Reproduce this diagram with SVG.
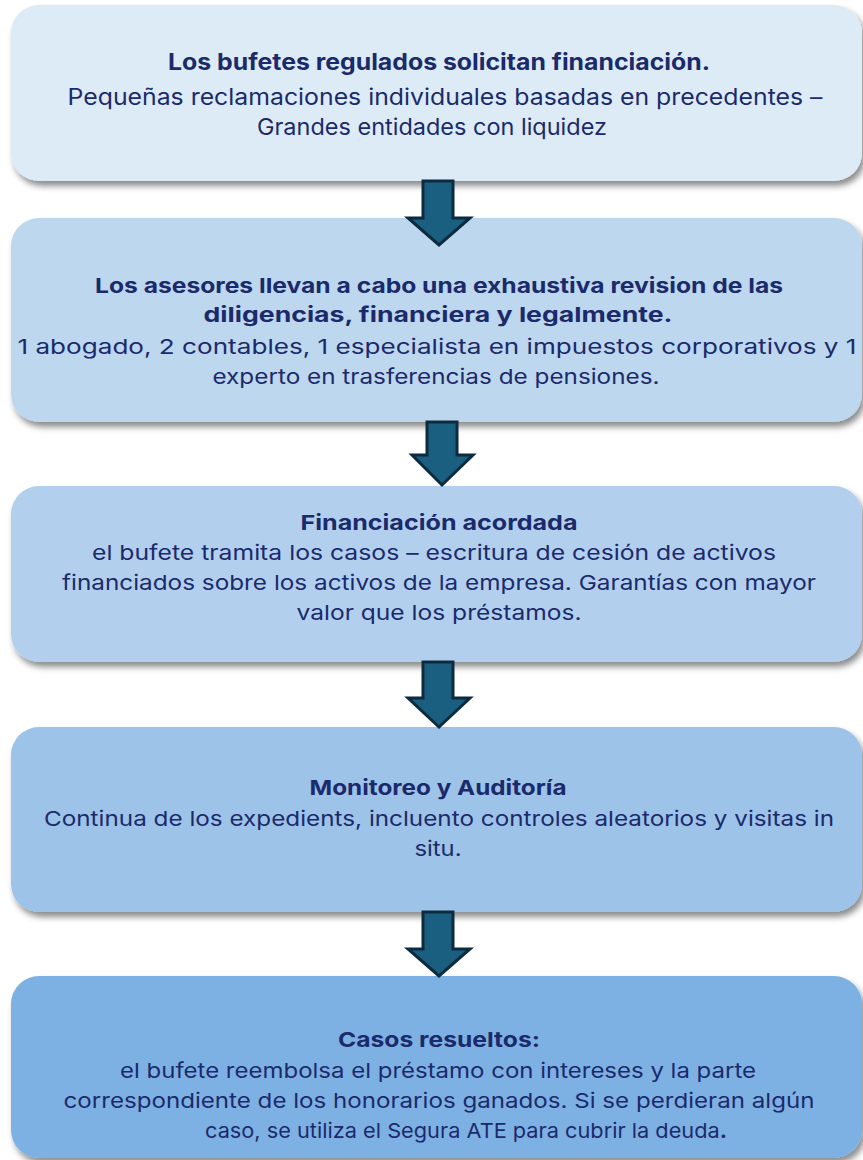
<svg xmlns="http://www.w3.org/2000/svg" width="863" height="1160" viewBox="0 0 863 1160">
<defs>
<filter id="sh" x="-5%" y="-10%" width="115%" height="130%">
<feDropShadow dx="3" dy="5" stdDeviation="3" flood-color="#000" flood-opacity="0.45"/>
</filter>
<style>
.box{filter:url(#sh);}
text{font-family:Inter,"Noto Sans","Liberation Sans",sans-serif;font-size:20.5px;fill:#1B2A6B;text-anchor:middle;}
.b{font-weight:bold;}
.big{font-size:22.5px;}
.arr{fill:#1A5E80;stroke:#0D2B3E;stroke-width:3;stroke-linejoin:miter;}
</style>
</defs>
<rect width="863" height="1160" fill="#fff"/>
<g id="n1">
<rect class="box" x="11" y="5" width="851" height="176" rx="28" fill="#DDEBF7"/>
<text class="b big" x="439" y="70" textLength="542" lengthAdjust="spacingAndGlyphs">Los bufetes regulados solicitan financiación.</text>
<text class="big" x="445" y="105" textLength="755" lengthAdjust="spacingAndGlyphs">Pequeñas reclamaciones individuales basadas en precedentes –</text>
<text class="big" x="432" y="135" textLength="350" lengthAdjust="spacingAndGlyphs">Grandes entidades con liquidez</text>
</g>
<g id="n2">
<rect class="box" x="11" y="218" width="851" height="204" rx="28" fill="#BDD7EE"/>
<text class="b" x="439" y="293" textLength="688" lengthAdjust="spacingAndGlyphs">Los asesores llevan a cabo una exhaustiva revision de las</text>
<text class="b" x="438" y="322" textLength="469" lengthAdjust="spacingAndGlyphs">diligencias, financiera y legalmente.</text>
<text x="437" y="354" textLength="839" lengthAdjust="spacingAndGlyphs">1 abogado, 2 contables, 1 especialista en impuestos corporativos y 1</text>
<text x="436" y="384" textLength="447" lengthAdjust="spacingAndGlyphs">experto en trasferencias de pensiones.</text>
</g>
<g id="n3">
<rect class="box" x="11" y="486" width="851" height="176" rx="28" fill="#B2D0EE"/>
<text class="b" x="439" y="530" textLength="277" lengthAdjust="spacingAndGlyphs">Financiación acordada</text>
<text x="434" y="560" textLength="684" lengthAdjust="spacingAndGlyphs">el bufete tramita los casos – escritura de cesión de activos</text>
<text x="439" y="590" textLength="754" lengthAdjust="spacingAndGlyphs">financiados sobre los activos de la empresa. Garantías con mayor</text>
<text x="439" y="620" textLength="285" lengthAdjust="spacingAndGlyphs">valor que los préstamos.</text>
</g>
<g id="n4">
<rect class="box" x="11" y="727" width="851" height="185" rx="28" fill="#9DC3E8"/>
<text class="b" x="438" y="795" textLength="257" lengthAdjust="spacingAndGlyphs">Monitoreo y Auditoría</text>
<text x="439" y="826" textLength="790" lengthAdjust="spacingAndGlyphs">Continua de los expedients, incluento controles aleatorios y visitas in</text>
<text x="438" y="856" textLength="47" lengthAdjust="spacingAndGlyphs">situ.</text>
</g>
<g id="n5">
<rect class="box" x="11" y="976" width="851" height="182" rx="28" fill="#7EB1E3"/>
<text class="b" x="439" y="1047" textLength="202" lengthAdjust="spacingAndGlyphs">Casos resueltos:</text>
<text x="438" y="1078" textLength="636" lengthAdjust="spacingAndGlyphs">el bufete reembolsa el préstamo con intereses y la parte</text>
<text x="439" y="1108" textLength="751" lengthAdjust="spacingAndGlyphs">correspondiente de los honorarios ganados. Si se perdieran algún</text>
<text x="466" y="1138" textLength="522" lengthAdjust="spacingAndGlyphs">caso, se utiliza el Segura ATE para cubrir la deuda<tspan class="b">.</tspan></text>
</g>
<g id="connectors">
<path class="arr" d="M423,181 H453 V218 H470 L439,245 L408,218 H423 Z"/>
<path class="arr" d="M427,422 H457 V455 H473 L442,485 L412,455 H427 Z"/>
<path class="arr" d="M423,662 H453 V698 H470 L439,727 L408,698 H423 Z"/>
<path class="arr" d="M423,912 H453 V949 H470 L439,976 L408,949 H423 Z"/>
</g>
</svg>
